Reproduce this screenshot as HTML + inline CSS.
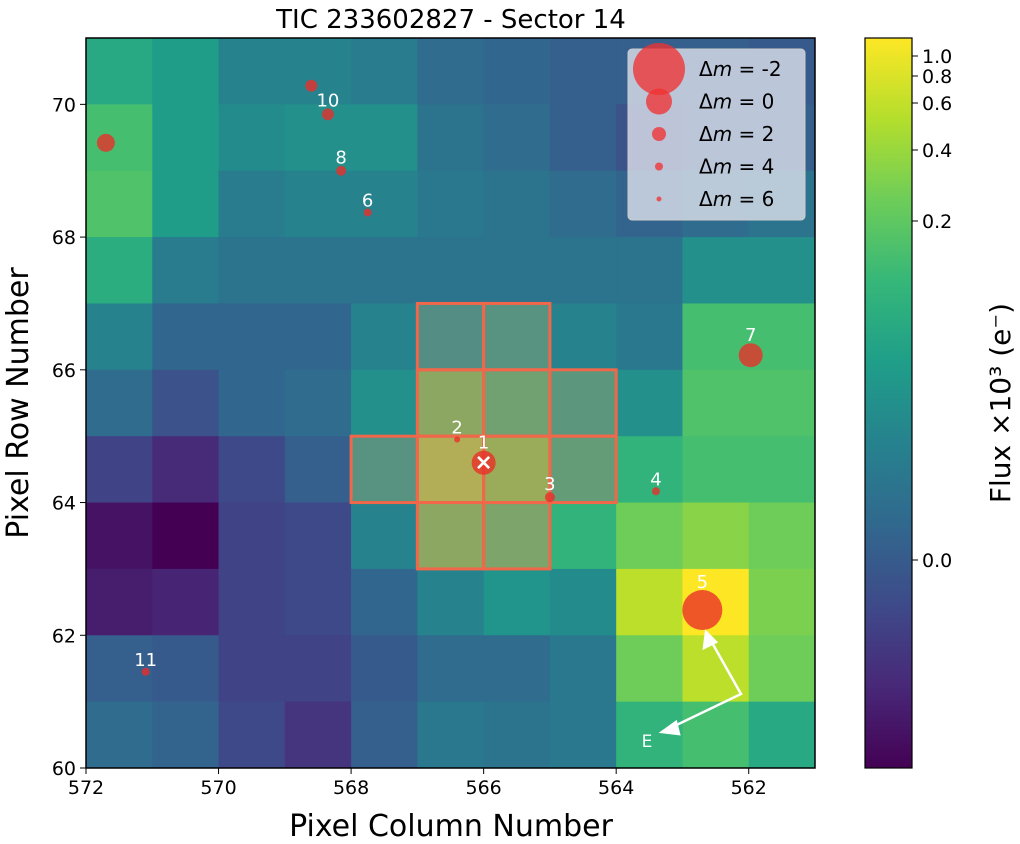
<!DOCTYPE html>
<html><head><meta charset="utf-8"><style>
body{margin:0;background:#fff;font-family:"DejaVu Sans","Liberation Sans",sans-serif}
svg text{font-family:"DejaVu Sans","Liberation Sans",sans-serif}
</style></head><body>
<svg id="c" width="1020" height="840" viewBox="0 0 1020 840"></svg>
<script>
const colLabels=[572,571,570,569,568,567,566,565,564,563,562];
const rowLabels=[70,69,68,67,66,65,64,63,62,61,60];
const pixelValues=[
[0.60,0.55,0.45,0.45,0.42,0.35,0.33,0.30,0.30,0.30,0.28],
[0.70,0.55,0.48,0.50,0.50,0.38,0.35,0.30,0.25,0.30,0.30],
[0.72,0.55,0.42,0.45,0.45,0.40,0.38,0.35,0.32,0.35,0.38],
[0.62,0.42,0.38,0.38,0.38,0.38,0.38,0.38,0.38,0.50,0.50],
[0.45,0.33,0.33,0.33,0.45,0.55,0.60,0.45,0.40,0.70,0.70],
[0.35,0.25,0.33,0.35,0.50,0.85,0.75,0.65,0.50,0.72,0.72],
[0.20,0.12,0.22,0.30,0.60,0.98,0.90,0.70,0.65,0.70,0.70],
[0.05,0.00,0.20,0.22,0.45,0.85,0.80,0.65,0.78,0.82,0.78],
[0.08,0.10,0.20,0.22,0.33,0.45,0.52,0.48,0.90,1.00,0.80],
[0.30,0.28,0.20,0.20,0.28,0.35,0.35,0.40,0.78,0.90,0.78],
[0.35,0.32,0.22,0.15,0.30,0.40,0.38,0.40,0.65,0.70,0.60]];
const apertureCols=[566.5,565.5,566.5,565.5,564.5,567.5,566.5,565.5,564.5,566.5,565.5];
const apertureRows=[66.5,66.5,65.5,65.5,65.5,64.5,64.5,64.5,64.5,63.5,63.5];
const starCol=[566.0,566.4,565.0,563.4,562.7,567.75,561.97,568.15,568.35,568.6,571.7,571.1];
const starRow=[64.6,64.95,64.08,64.17,62.38,68.37,66.22,69.0,69.85,70.28,69.42,61.45];
const starR=[12,3,5,4,20,4,12,5,6,6,9,4];
const starLabel=['1','2','3','4','5','6','7','8','10','','','11'];
const xTicks=[572,570,568,566,564,562];
const yTicks=[70,68,66,64,62,60];
const cbTicks=['1.0','0.8','0.6','0.4','0.2','0.0'];
const cbTickY=[56,76,103,150,221,560];
const legendLabels=['-2','0','2','4','6'];
const legendR=[26,13,7,4,2.5];

const S=document.getElementById('c'),NS='http://www.w3.org/2000/svg';
function el(t,a,p){const e=document.createElementNS(NS,t);for(const k in a)e.setAttribute(k,a[k]);(p||S).appendChild(e);return e;}
const X0=86,X1=815,Y0=38,Y1=768;
const xs=v=>X0+(572-v)*(X1-X0)/11;
const ys=v=>Y1-(v-60)*(Y1-Y0)/11;
const VS=[[68,1,84],[72,40,120],[62,74,137],[49,104,142],[38,130,142],[31,158,137],[53,183,121],[109,205,89],[180,222,44],[253,231,37]];
function vir(t){t=Math.max(0,Math.min(1,t))*9;const i=Math.min(8,Math.floor(t)),f=t-i;const a=VS[i],b=VS[i+1];return `rgb(${a.map((v,k)=>Math.round(v+(b[k]-v)*f)).join(',')})`;}
const g=el('g',{});

pixelValues.forEach((row,r)=>row.forEach((v,c)=>{
 const x=xs(colLabels[c]),y=ys(rowLabels[r]+1);
 const e=el('rect',{x:x,y:y,width:xs(colLabels[c]-1)-x+0.5,height:ys(rowLabels[r])-y+0.5,fill:vir(v)},g);
 
 
}));
apertureCols.forEach((c,i)=>{
 const x=xs(c+0.5),y=ys(apertureRows[i]+0.5);
 const e=el('rect',{x:x,y:y,width:xs(c-0.5)-x,height:ys(apertureRows[i]-0.5)-y,fill:'rgba(128,128,128,0.55)',stroke:'#f0674a','stroke-width':3});
 
 
});
starCol.forEach((c,i)=>{
 const e=el('circle',{cx:xs(c),cy:ys(starRow[i]),r:starR[i],fill:'rgba(235,45,40,0.78)'});
 
 
 if(starLabel[i]){const t=el('text',{x:xs(c),y:ys(starRow[i])-Math.max(starR[i],4)-2,'text-anchor':'middle',fill:'#fff','font-size':18});t.textContent=starLabel[i];
 
 }
});
el('text',{x:xs(566),y:ys(64.6)+7,'text-anchor':'middle',fill:'#fff','font-size':22,'font-weight':'bold'}).textContent='×';
const cp=el('g',{stroke:'#fff','stroke-width':2.5,fill:'none'});

el('polyline',{points:'706,632 741,694 662,732'},cp);
el('polygon',{points:'706,632 704,648 716,642',fill:'#fff'},cp);
el('polygon',{points:'662,732 676,722 679,734',fill:'#fff'},cp);
el('text',{x:647,y:747,'text-anchor':'middle',fill:'#fff','font-size':17,stroke:'none'}).textContent='E';
el('rect',{x:X0,y:Y0,width:X1-X0,height:Y1-Y0,fill:'none',stroke:'#000','stroke-width':1.5});
xTicks.forEach(v=>{el('line',{x1:xs(v),x2:xs(v),y1:Y1,y2:Y1+6,stroke:'#000'});const t=el('text',{x:xs(v),y:Y1+26,'text-anchor':'middle','font-size':19});t.textContent=v;
 });
yTicks.forEach(v=>{el('line',{x1:X0-6,x2:X0,y1:ys(v),y2:ys(v),stroke:'#000'});const t=el('text',{x:X0-10,y:ys(v)+7,'text-anchor':'end','font-size':19});t.textContent=v;
 });
const lg=el('g',{});
el('rect',{x:628,y:49,width:177,height:171,rx:4,fill:'rgba(225,228,238,0.78)',stroke:'#ccc'},lg);
legendLabels.forEach((l,i)=>{const y=69+i*32.5;el('circle',{cx:659,cy:y,r:legendR[i],fill:'rgba(240,50,50,0.78)'},lg);
 const t=el('text',{x:699,y:y+7,'font-size':20},lg);
 t.innerHTML='Δ<tspan font-style="italic">m</tspan> =  '+l;t.setAttribute('xml:space','preserve');});
el('text',{x:451,y:28,'text-anchor':'middle','font-size':26}).textContent='TIC 233602827 - Sector 14';
el('text',{x:451,y:836,'text-anchor':'middle','font-size':30}).textContent='Pixel Column Number';
el('text',{x:28,y:403,'text-anchor':'middle','font-size':30,transform:'rotate(-90 28 403)'}).textContent='Pixel Row Number';
const defs=el('defs',{});const lgd=el('linearGradient',{id:'cb',x1:0,y1:1,x2:0,y2:0},defs);
for(let i=0;i<=9;i++)el('stop',{offset:i/9,'stop-color':vir(i/9)},lgd);
const cb=el('rect',{x:865,y:38,width:47,height:730,fill:'url(#cb)',stroke:'#000','stroke-width':1.2});

cbTicks.forEach((l,i)=>{el('line',{x1:912,x2:918,y1:cbTickY[i],y2:cbTickY[i],stroke:'#000'});el('text',{x:922,y:cbTickY[i]+7,'font-size':19}).textContent=l;});
el('text',{x:1010,y:403,'text-anchor':'middle','font-size':28,transform:'rotate(-90 1010 403)'}).textContent='Flux ×10³ (e⁻)';
</script>
</body></html>
